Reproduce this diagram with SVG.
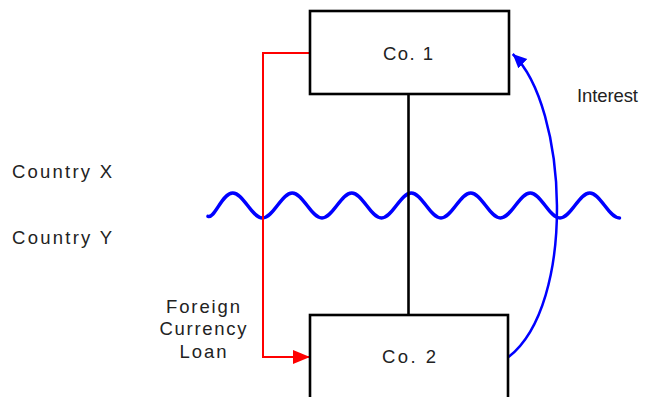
<svg xmlns="http://www.w3.org/2000/svg" width="648" height="397" viewBox="0 0 648 397">
<defs>
<marker id="redHead" markerUnits="userSpaceOnUse" markerWidth="18" markerHeight="14" refX="17" refY="7" orient="auto">
<path d="M0,0 L17,7 L0,14 Z" fill="#ff0000"/>
</marker>
<marker id="blueHead" markerUnits="userSpaceOnUse" markerWidth="16" markerHeight="14" refX="14" refY="6.5" orient="auto">
<path d="M0,0 L14,6.5 L0,13 Z" fill="#0000ff"/>
</marker>
</defs>
<style>
.box{fill:#ffffff;stroke:#000000;stroke-width:2.6}
.lbl{font-family:"Liberation Sans",Arial,sans-serif;font-size:18.5px;fill:#222222}
.mid{text-anchor:middle}
</style>
<rect width="648" height="397" fill="#ffffff"/>
<g id="border-wave">
<path d="M208,216.3 C215,218.5 222,193 232.75,193 C243.58,193 251.67,218 262.5,218 S281.42,193 292.25,193 S311.17,218 322,218 S340.92,193 351.75,193 S370.67,218 381.5,218 S400.42,193 411.25,193 S430.17,218 441,218 S459.92,193 470.75,193 S489.67,218 500.5,218 S519.42,193 530.25,193 S549.17,218 560,218 S578.92,193 589.75,193 S608.67,218 619.5,218" fill="none" stroke="#0000ff" stroke-width="3.5" stroke-linecap="round"/>
</g>
<g id="connectors">
<line x1="408.5" y1="94" x2="408.5" y2="315" stroke="#000000" stroke-width="2.6"/>
<path d="M310,53 L263,53 L263,357 L310,357" fill="none" stroke="#ff0000" stroke-width="2" marker-end="url(#redHead)"/>
<path d="M508.5,357 C576.7,304.3 568.1,106.6 512.7,54" fill="none" stroke="#0000ff" stroke-width="2.5" marker-end="url(#blueHead)"/>
</g>
<g id="co1">
<rect class="box" x="310" y="11" width="199" height="83"/>
<text class="lbl" x="383" y="60" textLength="50" lengthAdjust="spacing">Co. 1</text>
</g>
<g id="co2">
<rect class="box" x="310" y="315" width="198" height="100"/>
<text class="lbl" x="382" y="362.5" textLength="54" lengthAdjust="spacing">Co. 2</text>
</g>
<g id="labels">
<text class="lbl" x="577" y="101.5" textLength="61" lengthAdjust="spacing">Interest</text>
<text class="lbl" x="12" y="178" textLength="100" lengthAdjust="spacing">Country X</text>
<text class="lbl" x="12" y="244" textLength="100" lengthAdjust="spacing">Country Y</text>
<text class="lbl mid" x="203" y="312.5" textLength="74" lengthAdjust="spacing">Foreign</text>
<text class="lbl mid" x="203" y="335" textLength="87" lengthAdjust="spacing">Currency</text>
<text class="lbl mid" x="203" y="357.5" textLength="47" lengthAdjust="spacing">Loan</text>
</g>
</svg>
